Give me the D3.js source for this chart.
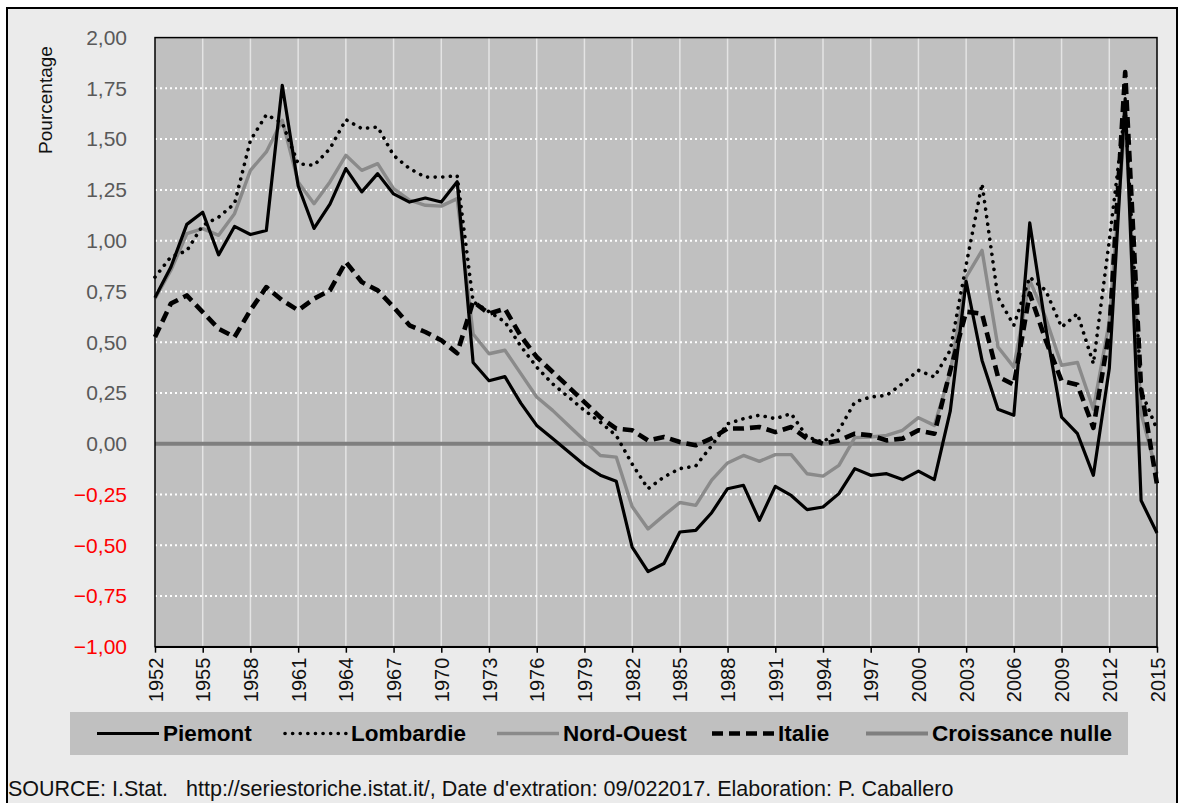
<!DOCTYPE html>
<meta charset="utf-8">
<style>
body { margin: 0; background: #fff; }
svg { font-family: "Liberation Sans", Arial, sans-serif; display: block; }
.ylab { font-size: 21px; }
.xaxis text { font-size: 20px; fill: #111; }
.xaxis path, .xaxis line { stroke: #000; stroke-width: 1.5; }
.legend text { font-size: 22.5px; font-weight: bold; fill: #000; }
</style>
<body>
<script src="https://d3js.org/d3.v7.min.js"></script>
<script>

var years = d3.range(1952, 2016);

var piemont = [0.72, 0.87, 1.08, 1.14, 0.93, 1.07, 1.03, 1.05, 1.765, 1.27,
    1.06, 1.18, 1.355, 1.24, 1.33, 1.23, 1.19, 1.21, 1.19, 1.29,
    0.40, 0.31, 0.33, 0.20, 0.09, 0.025, -0.04, -0.105, -0.155, -0.185,
    -0.51, -0.63, -0.59, -0.435, -0.427, -0.34, -0.222, -0.205, -0.378, -0.21,
    -0.255, -0.325, -0.312, -0.246, -0.123, -0.156, -0.148, -0.177, -0.135, -0.177,
    0.16, 0.80, 0.41, 0.17, 0.14, 1.087, 0.574, 0.131, 0.049, -0.156,
    0.37, 1.70, -0.28, -0.44];

var lombardie = [0.82, 0.92, 0.95, 1.075, 1.116, 1.182, 1.494, 1.62, 1.58, 1.379,
    1.371, 1.453, 1.596, 1.552, 1.56, 1.42, 1.355, 1.313, 1.313, 1.32,
    0.70, 0.65, 0.60, 0.48, 0.377, 0.295, 0.23, 0.164, 0.106, 0.04,
    -0.10, -0.222, -0.164, -0.123, -0.11, -0.01, 0.098, 0.123, 0.14, 0.123,
    0.148, 0.033, 0.008, 0.066, 0.205, 0.23, 0.238, 0.296, 0.361, 0.328,
    0.46, 0.88, 1.28, 0.72, 0.583, 0.82, 0.755, 0.574, 0.64, 0.394,
    1.0, 1.65, 0.26, 0.07];

var nordOuest = [0.714, 0.854, 1.034, 1.059, 1.026, 1.133, 1.346, 1.437, 1.593, 1.289,
    1.182, 1.289, 1.42, 1.346, 1.379, 1.256, 1.199, 1.174, 1.17, 1.207,
    0.54, 0.443, 0.46, 0.345, 0.23, 0.164, 0.09, 0.016, -0.058, -0.066,
    -0.31, -0.42, -0.353, -0.29, -0.304, -0.18, -0.095, -0.058, -0.087, -0.054,
    -0.054, -0.148, -0.16, -0.107, 0.03, 0.033, 0.041, 0.066, 0.128, 0.09,
    0.35, 0.82, 0.952, 0.476, 0.377, 0.804, 0.62, 0.386, 0.40, 0.17,
    0.60, 1.60, 0.15, -0.148];

var italie = [0.525, 0.69, 0.73, 0.648, 0.566, 0.525, 0.657, 0.771, 0.706, 0.657,
    0.714, 0.755, 0.895, 0.796, 0.755, 0.673, 0.583, 0.55, 0.509, 0.445,
    0.70, 0.64, 0.665, 0.53, 0.427, 0.353, 0.28, 0.205, 0.13, 0.074,
    0.066, 0.016, 0.033, 0.008, -0.008, 0.026, 0.075, 0.075, 0.082, 0.057,
    0.082, 0.025, 0.0, 0.016, 0.049, 0.041, 0.016, 0.025, 0.066, 0.049,
    0.36, 0.65, 0.64, 0.33, 0.29, 0.74, 0.51, 0.31, 0.29, 0.078,
    0.55, 1.83, 0.27, -0.20];

var yTicks = d3.range(-1, 2.001, 0.25);
var xTicks = d3.range(1952, 2016, 3);
var legendLabels = ["Piemont", "Lombardie", "Nord-Ouest", "Italie", "Croissance nulle"];

var styles = {
    "Piemont": {stroke: "#000", width: 3.2, dash: null, cap: "butt"},
    "Lombardie": {stroke: "#000", width: 3.6, dash: "0.1,7.5", cap: "round"},
    "Nord-Ouest": {stroke: "#8a8a8a", width: 3.4, dash: null, cap: "butt"},
    "Italie": {stroke: "#000", width: 4.6, dash: "11,6", cap: "butt"},
    "Croissance nulle": {stroke: "#7f7f7f", width: 4, dash: null, cap: "butt"}
};

var W = 1180, H = 803;
var plot = {left: 155, right: 1157, top: 37.6, bottom: 646.7};

var svg = d3.select("body").append("svg")
    .attr("width", W)
    .attr("height", H);

// outer frame
svg.append("rect")
    .attr("x", 7).attr("y", 8)
    .attr("width", 1170).attr("height", 805)
    .attr("fill", "#ebebeb")
    .attr("stroke", "#000")
    .attr("stroke-width", 2);

var x = d3.scaleLinear().domain([1952, 2015]).range([plot.left, plot.right]);
var y = d3.scaleLinear().domain([-1, 2]).range([plot.bottom, plot.top]);

// plot background
svg.append("rect")
    .attr("x", plot.left).attr("y", plot.top)
    .attr("width", plot.right - plot.left)
    .attr("height", plot.bottom - plot.top)
    .attr("fill", "#c0c0c0");

// vertical gridlines
svg.append("g")
    .selectAll("line")
    .data(xTicks.filter(function(d) { return d > 1952 && d < 2015; }))
    .enter().append("line")
    .attr("x1", function(d) { return x(d); })
    .attr("x2", function(d) { return x(d); })
    .attr("y1", plot.top).attr("y2", plot.bottom)
    .attr("stroke", "#e4e4e4")
    .attr("stroke-width", 1.5);

// horizontal dotted gridlines
svg.append("g")
    .selectAll("line")
    .data(yTicks.filter(function(d) { return d > -1 && d < 2 && Math.abs(d) > 1e-6; }))
    .enter().append("line")
    .attr("x1", plot.left).attr("x2", plot.right)
    .attr("y1", function(d) { return y(d); })
    .attr("y2", function(d) { return y(d); })
    .attr("stroke", "#fff")
    .attr("stroke-width", 2)
    .attr("stroke-dasharray", "2,3");

// zero line
svg.append("line")
    .attr("x1", plot.left).attr("x2", plot.right)
    .attr("y1", y(0)).attr("y2", y(0))
    .attr("stroke", styles["Croissance nulle"].stroke)
    .attr("stroke-width", styles["Croissance nulle"].width);

var line = d3.line()
    .x(function(d, i) { return x(years[i]); })
    .y(function(d) { return y(d); });

function drawSeries(values, name) {
    var s = styles[name];
    svg.append("path")
        .datum(values)
        .attr("fill", "none")
        .attr("stroke", s.stroke)
        .attr("stroke-width", s.width)
        .attr("stroke-linecap", s.cap)
        .attr("stroke-linejoin", "round")
        .attr("stroke-dasharray", s.dash)
        .attr("d", line);
}

drawSeries(nordOuest, "Nord-Ouest");
drawSeries(lombardie, "Lombardie");
drawSeries(piemont, "Piemont");
drawSeries(italie, "Italie");

// plot frame
svg.append("rect")
    .attr("x", plot.left).attr("y", plot.top)
    .attr("width", plot.right - plot.left)
    .attr("height", plot.bottom - plot.top)
    .attr("fill", "none")
    .attr("stroke", "#000")
    .attr("stroke-width", 1.5);

// y labels
var fmt = d3.format(".2f");
svg.append("g")
    .selectAll("text")
    .data(yTicks)
    .enter().append("text")
    .attr("class", "ylab")
    .attr("x", 127)
    .attr("y", function(d) { return y(d); })
    .attr("dy", "0.35em")
    .attr("text-anchor", "end")
    .attr("fill", function(d) { return d < 0 ? "#f00" : "#595959"; })
    .text(function(d) { return fmt(d).replace(".", ","); });

// x axis
svg.append("g")
    .attr("class", "xaxis")
    .attr("transform", "translate(0," + plot.bottom + ")")
    .call(d3.axisBottom(x).tickValues(xTicks).tickFormat(d3.format("d")).tickSize(6).tickSizeOuter(0))
    .selectAll("text")
    .attr("transform", "rotate(-90)")
    .attr("text-anchor", "end")
    .attr("x", -11)
    .attr("y", 0)
    .attr("dy", "0.35em");

// y title
svg.append("text")
    .attr("transform", "translate(52,100) rotate(-90)")
    .attr("text-anchor", "middle")
    .attr("font-size", 19)
    .attr("fill", "#111")
    .text("Pourcentage");

// legend
var legend = svg.append("g").attr("class", "legend");
legend.append("rect")
    .attr("x", 70).attr("y", 712)
    .attr("width", 1058).attr("height", 43)
    .attr("fill", "#c0c0c0");

var legendX = [97, 285, 497, 712, 866];
legendLabels.forEach(function(name, i) {
    var s = styles[name];
    var lx = legendX[i];
    legend.append("line")
        .attr("x1", lx).attr("x2", lx + 62)
        .attr("y1", 733.5).attr("y2", 733.5)
        .attr("stroke", s.stroke)
        .attr("stroke-width", s.width)
        .attr("stroke-linecap", s.cap)
        .attr("stroke-dasharray", s.dash);
    legend.append("text")
        .attr("x", lx + 66)
        .attr("y", 733.5)
        .attr("dy", "0.35em")
        .text(name);
});

// source
svg.append("text")
    .attr("x", 8)
    .attr("y", 796)
    .attr("font-size", 21.5)
    .attr("fill", "#111")
    .text("SOURCE: I.Stat.\u00a0\u00a0 http://seriestoriche.istat.it/, Date d'extration: 09/022017. Elaboration: P. Caballero");

</script>
